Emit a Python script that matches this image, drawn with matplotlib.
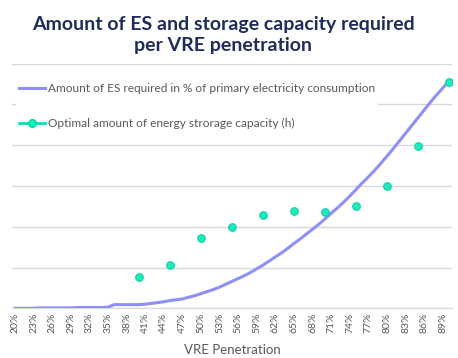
import numpy as np
import matplotlib
matplotlib.use("Agg")
import matplotlib.pyplot as plt

plt.rcParams['font.family'] = ['Lato', 'DejaVu Sans']

# VRE penetration 20% .. 90% in 1% steps
penetration = list(range(20, 91))

# amount of ES required (in gridline units)
es_required = [0.00, 0.00, 0.00, 0.00, 0.01, 0.01, 0.01, 0.01, 0.01, 0.01,
               0.02, 0.02, 0.02, 0.02, 0.02, 0.03, 0.09, 0.09, 0.09, 0.09,
               0.09, 0.10, 0.12, 0.14, 0.16, 0.19, 0.21, 0.23, 0.27, 0.31,
               0.36, 0.41, 0.46, 0.52, 0.59, 0.66, 0.73, 0.80, 0.88, 0.97,
               1.06, 1.16, 1.26, 1.36, 1.47, 1.59, 1.70, 1.82, 1.94, 2.06,
               2.19, 2.33, 2.46, 2.60, 2.75, 2.91, 3.07, 3.22, 3.38, 3.55,
               3.73, 3.91, 4.10, 4.29, 4.48, 4.67, 4.86, 5.05, 5.23, 5.40,
               5.57]

# optimal storage capacity, only given every 5%
storage_pen = [40, 45, 50, 55, 60, 65, 70, 75, 80, 85, 90]
storage_cap = [0.77, 1.06, 1.73, 2.00, 2.29, 2.38, 2.35, 2.51, 2.99, 3.97, 5.55]

label_es = "Amount of ES required in % of primary electricity consumption"
label_cap = "Optimal amount of energy strorage capacity (h)"

fig = plt.figure(figsize=(4.58, 3.58), dpi=100)
ax = fig.add_axes([12 / 458, 49.7 / 358, 440 / 458, 244.7 / 358])

x = np.arange(len(penetration))
idx = [penetration.index(p) for p in storage_pen]

ax.plot(x, es_required, color='#8F8FFA', lw=2.2, label=label_es, zorder=3)
ax.plot(idx, storage_cap, color='#19D9AE', lw=2, marker='o', ms=5.5,
        mfc='#1DEBBF', mec='#14CFA5', mew=0.8, linestyle='none', zorder=4)
# legend proxy: line with marker
ax.plot([], [], color='#19D9AE', lw=2, marker='o', ms=5.5,
        mfc='#1DEBBF', mec='#14CFA5', label=label_cap)

ax.set_xlim(-0.5, len(penetration) - 0.5)
ax.set_ylim(0, 6)
ax.set_yticks(range(0, 7))
ax.set_yticklabels([])
ax.tick_params(axis='y', length=0)
ax.grid(axis='y', color='#D9D9D9', lw=1)
ax.set_axisbelow(True)

ticks = x[::3]
ax.set_xticks(ticks)
ax.set_xticklabels([f"{penetration[i]}%" for i in ticks], rotation=90,
                   fontsize=7.5, color='#595959')
ax.tick_params(axis='x', length=0, pad=3)

for s in ['top', 'left', 'right']:
    ax.spines[s].set_visible(False)
ax.spines['bottom'].set_color('#D9D9D9')

ax.set_xlabel("VRE Penetration", fontsize=9.5, color='#595959', labelpad=8)

leg = ax.legend(loc='upper left', bbox_to_anchor=(0.0, 0.95), frameon=True,
                fontsize=8.55, labelcolor='#595959', handlelength=2.2,
                handletextpad=0.2, labelspacing=2.0, borderpad=0.3,
                borderaxespad=0.3)
leg.get_frame().set_facecolor('white')
leg.get_frame().set_edgecolor('none')
leg.get_frame().set_alpha(1)

fig.text(0.487, 0.955, "Amount of ES and storage capacity required\nper VRE penetration",
         ha='center', va='top', fontsize=14, fontweight='bold',
         color='#1F2D5C', linespacing=1.3)

fig.savefig("out.png", dpi=100)
